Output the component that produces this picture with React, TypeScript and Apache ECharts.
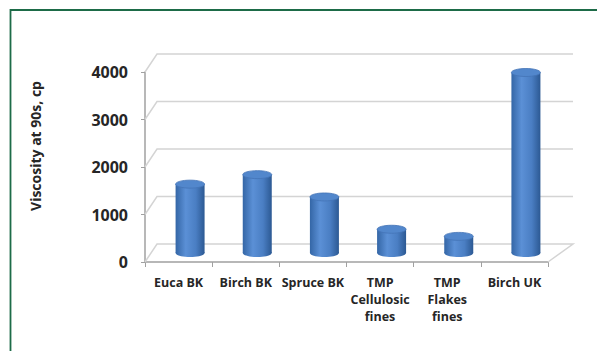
import React, { useEffect, useRef } from "react";
import * as echarts from "echarts";

const categories = [
  "Euca BK",
  "Birch BK",
  "Spruce BK",
  "TMP\nCellulosic\nfines",
  "TMP\nFlakes\nfines",
  "Birch UK",
];
const viscosity = [1450, 1650, 1180, 500, 350, 3800];
const yTicks = [0, 1000, 2000, 3000, 4000];
const yAxisTitle = "Viscosity at 90s, cp";

const FONT = "'Open Sans', 'Noto Sans', sans-serif";

export default function App() {
  const ref = useRef<HTMLDivElement>(null);
  useEffect(() => {
    if (!ref.current) return;
    const chart = echarts.init(ref.current, null, { renderer: "svg" });
    const depthLX = 12;
    const depthRX = 25;
    const depthY = -18;
    const barDX = 11.5;
    const barDY = -9;
    const rx = 14.5;
    const ry = 4;

    const bodyGrad = () =>
      new echarts.graphic.LinearGradient(0, 0, 1, 0, [
        { offset: 0, color: "#3466a6" },
        { offset: 0.35, color: "#5b90d6" },
        { offset: 0.7, color: "#4a7ec3" },
        { offset: 1, color: "#2c5993" },
      ]);

    chart.setOption({
      animation: false,
      backgroundColor: "#ffffff",
      grid: { left: 145, top: 72, width: 403, height: 190 },
      xAxis: {
        type: "category",
        data: categories,
        axisLine: { show: true, lineStyle: { color: "#a0a0a0", width: 1.5 } },
        axisTick: { show: true, length: 5, lineStyle: { color: "#a0a0a0" } },
        axisLabel: {
          margin: 12,
          fontFamily: FONT,
          fontWeight: "bold",
          fontSize: 12.5,
          lineHeight: 17,
          color: "#262626",
          interval: 0,
        },
        splitLine: { show: false },
      },
      yAxis: {
        type: "value",
        min: 0,
        max: 4000,
        interval: 1000,
        axisLine: { show: true, lineStyle: { color: "#a0a0a0", width: 1.5 } },
        axisTick: { show: true, length: 4, lineStyle: { color: "#a0a0a0" } },
        axisLabel: {
          margin: 17,
          fontFamily: FONT,
          fontWeight: "bold",
          fontSize: 16,
          color: "#262626",
          formatter: (v: number) => String(v),
        },
        splitLine: { show: false },
      },
      graphic: [
        {
          type: "polyline",
          shape: { points: [[10.5, 351], [10.5, 10], [597, 10]] },
          style: { stroke: "#1d6b48", lineWidth: 1.8, fill: "none" },
          z: 10,
        },
        {
          type: "text",
          x: 35,
          y: 146,
          rotation: Math.PI / 2,
          style: {
            text: yAxisTitle,
            font: `bold 14px ${FONT}`,
            fill: "#262626",
            textAlign: "center",
            textVerticalAlign: "middle",
          },
        },
      ],
      series: [
        {
          type: "custom",
          silent: true,
          clip: false,
          z: 1,
          data: yTicks.map((v) => [0, v]),
          renderItem: (params: any, api: any) => {
            const cs = params.coordSys;
            const v = api.value(1);
            const y = api.coord([0, v])[1];
            const x0 = cs.x;
            const x1 = cs.x + cs.width;
            const pts: number[][] = [
              [x0, y],
              [x0 + depthLX, y + depthY],
              [x1 + depthRX, y + depthY],
            ];
            if (v === 0) pts.push([x1, y]);
            return {
              type: "polyline",
              shape: { points: pts },
              style: { stroke: "#d4d4d4", lineWidth: 1.5, fill: "none" },
            };
          },
        },
        {
          type: "custom",
          silent: true,
          clip: false,
          z: 3,
          data: viscosity.map((v, i) => [i, v]),
          renderItem: (params: any, api: any) => {
            const i = api.value(0);
            const v = api.value(1);
            const p0 = api.coord([i, 0]);
            const pv = api.coord([i, v]);
            const cx = p0[0] + barDX;
            const base = p0[1] + barDY;
            const top = base - (p0[1] - pv[1]);
            return {
              type: "group",
              children: [
                {
                  type: "ellipse",
                  shape: { cx, cy: base, rx, ry },
                  style: { fill: bodyGrad() },
                },
                {
                  type: "rect",
                  shape: { x: cx - rx, y: top, width: rx * 2, height: base - top },
                  style: { fill: bodyGrad() },
                },
                {
                  type: "ellipse",
                  shape: { cx, cy: top, rx, ry },
                  style: { fill: "#5287cc", stroke: "#4474b6", lineWidth: 0.8 },
                },
              ],
            };
          },
        },
      ],
    });
    return () => chart.dispose();
  }, []);
  return (
    <div
      ref={ref}
      style={{ position: "fixed", left: 0, top: 0, width: 597, height: 351 }}
    />
  );
}
